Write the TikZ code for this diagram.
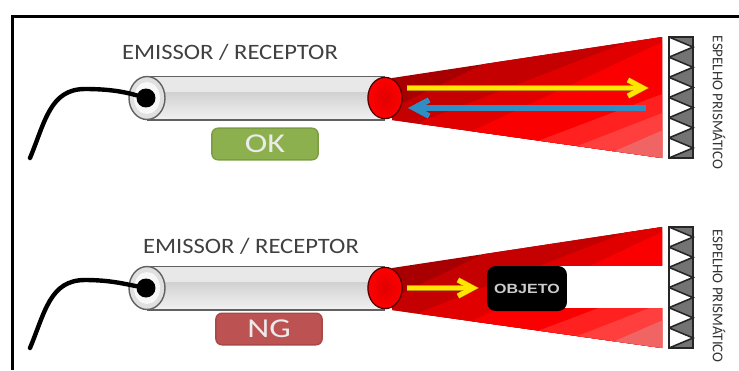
\documentclass[tikz,border=0pt]{standalone}
\usepackage{fontspec}
\setmainfont{Carlito}
\newfontfamily\labelfont[FakeStretch=1.12]{Carlito}
\newfontfamily\statusfont[FakeStretch=1.25]{Carlito}
\newfontfamily\objectfont[FakeStretch=1.2]{Liberation Sans}
\usetikzlibrary{calc,shapes.geometric}
\definecolor{bandA}{HTML}{A80000}
\definecolor{bandB}{HTML}{C40000}
\definecolor{bandC}{HTML}{E00000}
\definecolor{bandD}{HTML}{FA0000}
\definecolor{bandE}{HTML}{FF2020}
\definecolor{bandF}{HTML}{FF3E3E}
\definecolor{bandG}{HTML}{F06464}
\definecolor{okfill}{HTML}{8DB04E}
\definecolor{okline}{HTML}{7C9C44}
\definecolor{ngfill}{HTML}{BC5352}
\definecolor{ngline}{HTML}{A84847}
\definecolor{beamy}{HTML}{FFE600}
\definecolor{beamyedge}{HTML}{C88A00}
\definecolor{beamb}{HTML}{2E8FC4}
\tikzset{
  sensortext/.style={text=black!75,font=\labelfont\fontsize{12.5}{14}\selectfont,inner sep=0pt},
  mirrortext/.style={text=black!80,font=\fontsize{8.5}{10}\selectfont,rotate=-90,inner sep=0pt},
  status/.style={rounded corners=3.5pt,minimum width=60.5pt,minimum height=18pt,inner sep=0pt,text=white!92!black,font=\statusfont\fontsize{15.5}{17}\selectfont,line width=.8pt},
  lens/.style={ellipse,draw=black!70!red,shading=radial,inner color=red!88!black,outer color=red,line width=.7pt,minimum width=19.5pt,minimum height=23.5pt,inner sep=0pt},
  plug/.style={circle,fill=black,minimum size=10.8pt,inner sep=0pt},
  beam/.style={line width=2.5pt,miter limit=10},
  beamhead/.style={line width=2.7pt,miter limit=10},
  cable/.style={line width=2.5pt,line cap=round},
  obstacle/.style={fill=black,rounded corners=5pt,minimum width=45.5pt,minimum height=25.6pt,inner sep=0pt,text=white!80!black,font=\objectfont\bfseries\fontsize{7.6}{9}\selectfont},
}
% tube of the sensor
\newcommand{\sensorbody}[1]{
  \begin{scope}[shift={(0,#1)}]
  \shade[top color=black!18,bottom color=black!5] (147,92) rectangle (385,120);
  \fill[black!9] (147,76) rectangle (385,92);
  \draw[black!62,line width=.8pt] (147,76.5) -- (385,76.5);
  \draw[black!62,line width=.8pt] (147,120) -- (385,120);
  \draw[black!62,fill=black!12,line width=.8pt] (147,98) ellipse (18 and 21.5);
  \fill[black!3] (147,98) ellipse (13 and 16);
  \end{scope}
}
% reach of the light, lighter towards the lower right
\newcommand{\lightcone}[1]{
  \begin{scope}[shift={(0,#1)}]
  \clip (392,78) -- (662,37) -- (662,158) -- (392,120) -- cycle;
  \fill[bandA] (385,30) rectangle (670,170);
  \fill[bandB] (392,108) -- (540,37) -- (670,37) -- (670,170) -- (392,170) -- cycle;
  \fill[bandC] (420,122) -- (640,37) -- (670,37) -- (670,170) -- (420,170) -- cycle;
  \fill[bandD] (470,132) -- (662,42) -- (670,42) -- (670,170) -- (470,170) -- cycle;
  \fill[bandE] (535,142) -- (670,91) -- (670,170) -- (535,170) -- cycle;
  \fill[bandF] (572,148) -- (670,110) -- (670,170) -- (572,170) -- cycle;
  \fill[bandG] (608,154) -- (670,127) -- (670,170) -- (608,170) -- cycle;
  \end{scope}
}
% mirror strip with six white teeth
\newcommand{\prismstrip}[1]{
  \begin{scope}[shift={(0,#1)}]
  \fill[black!55] (669,37) rectangle (693,158);
  \foreach \i in {0,...,5}
    \fill[white] ($(669,37)+(0,20.17*\i)$) -- ++(24,10.08) -- ++(-24,10.09) -- cycle;
  \foreach \i in {0,...,5}
    \draw[black!85,line width=.9pt] ($(669,37)+(0,20.17*\i)$) -- ++(24,10.08) -- ++(-24,10.09);
  \draw[black!85,line width=.9pt] (669,37) rectangle (693,158);
  \end{scope}
}
% shaft and open head: colour, edge colour, start, end, direction (1 or -1)
\newcommand{\beamarrow}[5]{
  \draw[beam,draw=#2,line width=3pt] (#3) -- ($(#4)+(#5*-6,0)$);
  \draw[beamhead,draw=#2,line width=3.2pt] ($(#4)+(#5*-20,-8)$) -- ($(#4)+(#5*-5,0)$) -- ($(#4)+(#5*-20,8)$);
  \draw[beam,draw=#1] (#3) -- ($(#4)+(#5*-6,0)$);
  \draw[beamhead,draw=#1] ($(#4)+(#5*-20,-8)$) -- ($(#4)+(#5*-5,0)$) -- ($(#4)+(#5*-20,8)$);
}
\begin{document}
\begin{tikzpicture}[x=0.02cm,y=-0.02cm]
\useasboundingbox (0,0) rectangle (739,370);

% frame
\coordinate (ftl) at (12.5,16);
\coordinate (ftr) at (739,16);
\coordinate (fbl) at (12.5,370);
\draw[line width=1.7pt] (fbl) -- (ftl) -- (ftr);

% upper sensor
\lightcone{0}
\sensorbody{0}
\prismstrip{0}
\node(lbla) at (230,52) [sensortext]{EMISSOR / RECEPTOR};
\node(plga) at (146,98) [plug]{};
\node(lnsa) at (385,98) [lens]{};
\node(oka) at (265,144) [status,fill=okfill,draw=okline]{OK};
\node(txta) at (719,102.5) [mirrortext]{ESPELHO PRISMÁTICO};
\coordinate (enda) at (30,158);
\draw[cable] (enda) .. controls (45,122) and (50,89) .. (85,89) .. controls (110,89) and (125,92) .. (plga);
\coordinate (sya) at (407,88);
\coordinate (eya) at (648,88);
\coordinate (sba) at (646,108);
\coordinate (eba) at (409,108);
\beamarrow{beamy}{beamyedge}{sya}{eya}{1}
\beamarrow{beamb}{beamb}{sba}{eba}{-1}

% lower sensor, the light is stopped by the object
\lightcone{190}
\fill[white] (500,266) rectangle (664,308);
\sensorbody{190}
\prismstrip{190}
\node(lblb) at (251,246) [sensortext]{EMISSOR / RECEPTOR};
\node(plgb) at (146,288) [plug]{};
\node(lnsb) at (385,288) [lens]{};
\node(ngb) at (269,329) [status,fill=ngfill,draw=ngline]{NG};
\node(txtb) at (719,296) [mirrortext]{ESPELHO PRISMÁTICO};
\node(obj) at (527,288.5) [obstacle]{OBJETO};
\coordinate (endb) at (30,348);
\draw[cable] (endb) .. controls (45,312) and (50,280) .. (85,280) .. controls (110,280) and (125,284) .. (plgb);
\coordinate (syb) at (407,288);
\coordinate (eyb) at (478,288);
\beamarrow{beamy}{beamyedge}{syb}{eyb}{1}

\end{tikzpicture}
\end{document}
